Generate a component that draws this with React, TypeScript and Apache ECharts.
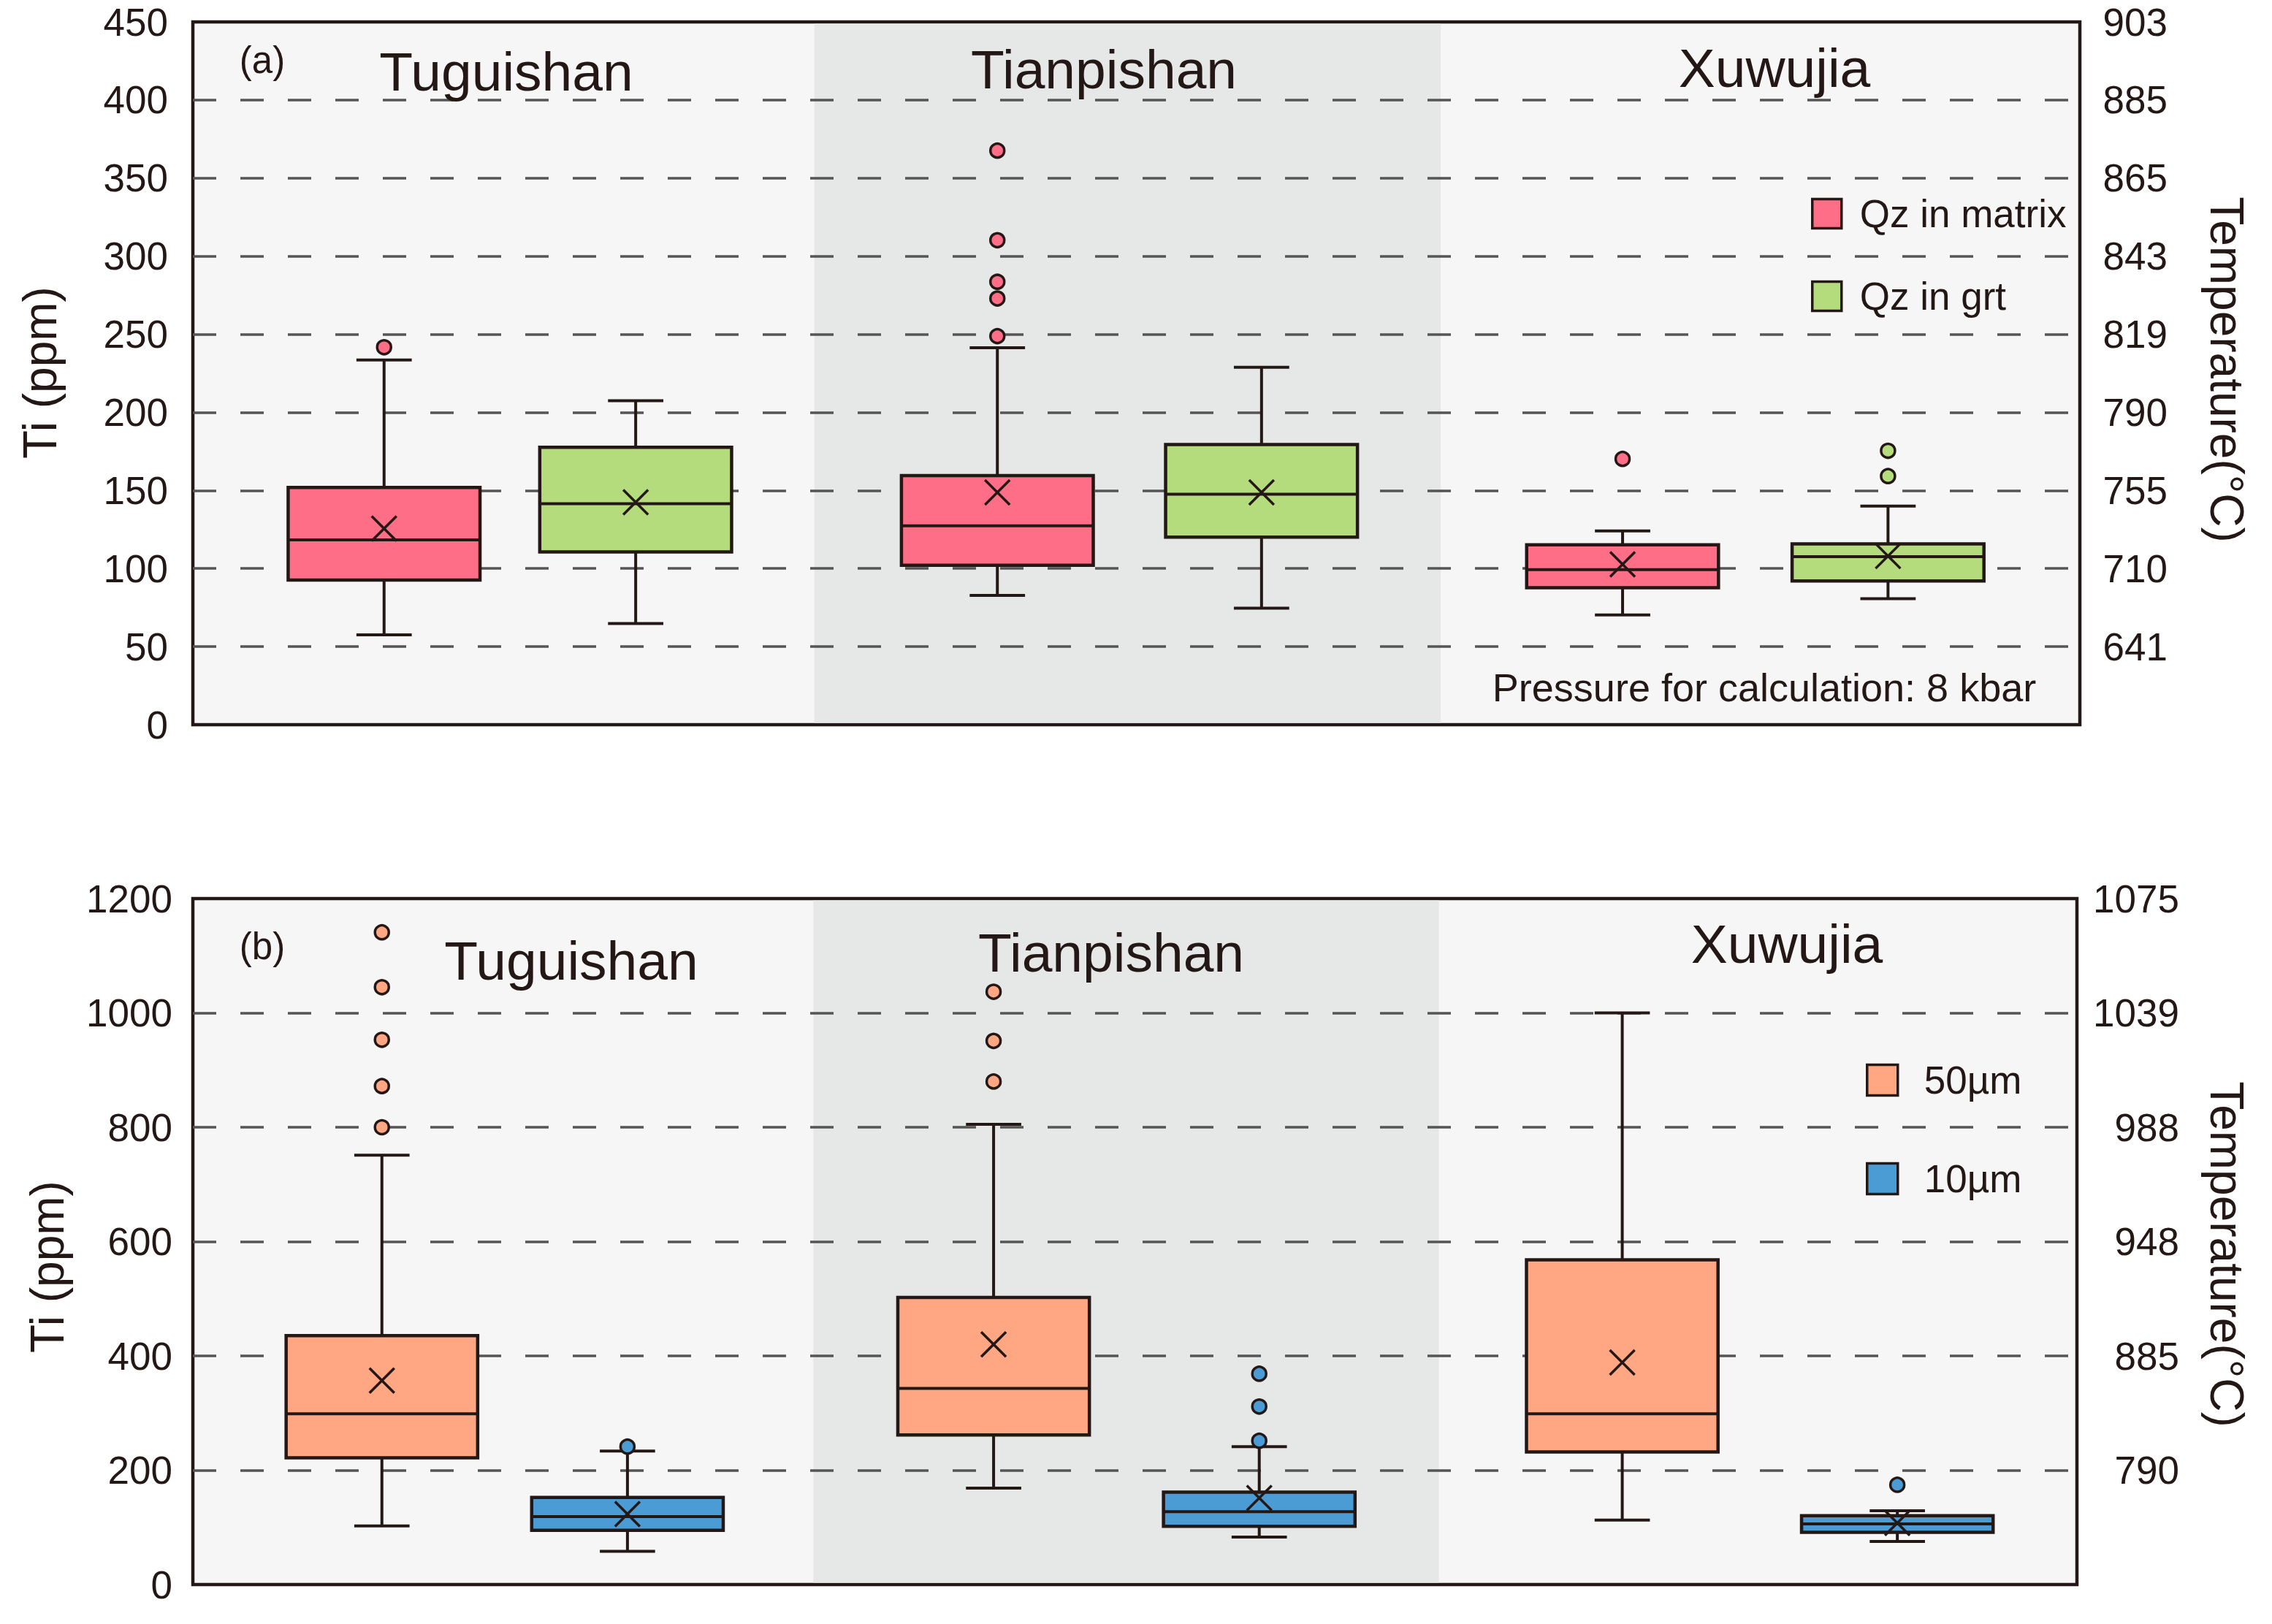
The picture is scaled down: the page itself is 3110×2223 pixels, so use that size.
import React, { useEffect, useRef } from "react";
import * as echarts from "echarts";

// ---------- data ----------
const SITES = ["Tuguishan", "Tianpishan", "Xuwujia"];

// box statistics per site: [lower whisker, Q1, median, Q3, upper whisker, mean]
const A_MATRIX_STATS = [
  [57.5, 92.6, 118.3, 151.9, 233.5, 125.6],
  [82.8, 102.1, 127.4, 159.5, 241.4, 148.8],
  [70.3, 87.7, 99.3, 115.2, 124.1, 102.7],
];
const A_MATRIX_OUTLIERS = [[241.7], [367.6, 310.2, 283.6, 272.9, 248.8], [170.2]];
const A_GRT_STATS = [
  [64.8, 110.6, 141.5, 177.6, 207.5, 142.4],
  [74.6, 120.1, 147.6, 179.4, 228.9, 148.8],
  [80.7, 92.0, 107.6, 115.8, 140.0, 108.0],
];
const A_GRT_OUTLIERS = [[], [], [175.4, 159.2]];

const B_50_STATS = [
  [102.7, 221.6, 298.6, 435.5, 751, 356.8],
  [168.6, 261.8, 343.1, 502.2, 805, 420.1],
  [112.9, 231.9, 298.6, 568, 1000, 388.4],
];
const B_50_OUTLIERS = [[1141, 1045, 953, 872, 800], [1037, 951, 880], []];
const B_10_STATS = [
  [58.2, 95.0, 118.9, 152.3, 233.6, 123.2],
  [83.0, 101.8, 127.5, 161.7, 241.3, 151.4],
  [75.3, 91.5, 106.1, 120.6, 129.2, 107.8],
];
const B_10_OUTLIERS = [[241.3], [368.8, 311.4, 251.5], [174.5]];

const A_TEMP_TICKS = ["", "641", "710", "755", "790", "819", "843", "865", "885", "903"];
const B_TEMP_TICKS = ["", "790", "885", "948", "988", "1039", "1075"];

const A_SERIES_NAMES = ["Qz in matrix", "Qz in grt"];
const B_SERIES_NAMES = ["50µm", "10µm"];

// ---------- styles / layout ----------
const FONT = '"Liberation Sans", Arial, Helvetica, sans-serif';
const INK = "#231815";
const COLORS_A = ["#fe6e86", "#b5dc7c"];
const COLORS_B = ["#ffa782", "#4b9bd5"];
// horizontal offset of each box inside its site band (band = 1 unit on the hidden x axis)
const OFFSETS_A = [
  [0.304, 0.279, 0.273],
  [0.704, 0.699, 0.695],
];
const OFFSETS_B = [
  [0.301, 0.275, 0.276],
  [0.692, 0.698, 0.714],
];
const BOX_W = 0.305;
const CAP_W = 0.088;
const SHADE_RANGE = [0.988, 1.984];

function boxRows(stats: number[][]) {
  return stats.map((s, i) => [i, ...s]);
}

function outlierRows(out: number[][], offsets: number[]) {
  const rows: number[][] = [];
  out.forEach((vals, i) => vals.forEach((v) => rows.push([i + offsets[i], v])));
  return rows;
}

function makeBoxRender(offsets: number[], fill: string) {
  return (params: any, api: any) => {
    const site = api.value(0);
    const x = site + offsets[site];
    const cx = api.coord([x, api.value(1)])[0];
    const yMin = api.coord([x, api.value(1)])[1];
    const yQ1 = api.coord([x, api.value(2)])[1];
    const yMed = api.coord([x, api.value(3)])[1];
    const yQ3 = api.coord([x, api.value(4)])[1];
    const yMax = api.coord([x, api.value(5)])[1];
    const yMean = api.coord([x, api.value(6)])[1];
    const half = api.size([BOX_W, 0])[0] / 2;
    const capHalf = api.size([CAP_W, 0])[0] / 2;
    const c = 17;
    const ls = { stroke: INK, lineWidth: 4 };
    return {
      type: "group",
      children: [
        { type: "line", shape: { x1: cx, y1: yQ3, x2: cx, y2: yMax }, style: ls },
        { type: "line", shape: { x1: cx - capHalf, y1: yMax, x2: cx + capHalf, y2: yMax }, style: ls },
        { type: "line", shape: { x1: cx, y1: yQ1, x2: cx, y2: yMin }, style: ls },
        { type: "line", shape: { x1: cx - capHalf, y1: yMin, x2: cx + capHalf, y2: yMin }, style: ls },
        {
          type: "rect",
          shape: { x: cx - half, y: yQ3, width: half * 2, height: yQ1 - yQ3 },
          style: { fill, stroke: INK, lineWidth: 4.5 },
        },
        { type: "line", shape: { x1: cx - half, y1: yMed, x2: cx + half, y2: yMed }, style: ls },
        { type: "line", shape: { x1: cx - c, y1: yMean - c, x2: cx + c, y2: yMean + c }, style: { stroke: INK, lineWidth: 3.5 } },
        { type: "line", shape: { x1: cx - c, y1: yMean + c, x2: cx + c, y2: yMean - c }, style: { stroke: INK, lineWidth: 3.5 } },
      ],
    };
  };
}

function shadeRender(params: any, api: any) {
  const cs = params.coordSys;
  const x1 = api.coord([SHADE_RANGE[0], 0])[0];
  const x2 = api.coord([SHADE_RANGE[1], 0])[0];
  return {
    type: "rect",
    shape: { x: x1, y: cs.y + 2.5, width: x2 - x1, height: cs.height - 5 },
    style: { fill: "#e6e7e7" },
  };
}

function text(t: string, x: number, y: number, size: number, rotation = 0) {
  return {
    type: "text",
    x,
    y,
    rotation,
    z: 10,
    style: {
      text: t,
      fill: INK,
      fontSize: size,
      fontFamily: FONT,
      align: "center",
      verticalAlign: "middle",
    },
  };
}

export default function App() {
  const ref = useRef<HTMLDivElement>(null);

  useEffect(() => {
    if (!ref.current) return;
    const chart = echarts.init(ref.current, undefined, { renderer: "svg" });

    const leftAxis = (gridIndex: number, max: number, interval: number, margin: number) => ({
      type: "value",
      gridIndex,
      min: 0,
      max,
      interval,
      position: "left",
      z: 1.5,
      axisLine: { show: false },
      axisTick: { show: false },
      axisLabel: {
        fontSize: 53,
        color: INK,
        fontFamily: FONT,
        margin,
        formatter: (v: number) => String(v),
      },
      splitLine: {
        show: true,
        showMinLine: false,
        showMaxLine: false,
        lineStyle: { color: "#555555", width: 3.5, type: [32, 33] },
      },
    });
    const rightAxis = (gridIndex: number, max: number, interval: number, margin: number, ticks: string[]) => ({
      type: "value",
      gridIndex,
      min: 0,
      max,
      interval,
      position: "right",
      axisLine: { show: false },
      axisTick: { show: false },
      splitLine: { show: false },
      axisLabel: {
        fontSize: 53,
        color: INK,
        fontFamily: FONT,
        margin,
        align: "right",
        formatter: (v: number) => ticks[Math.round(v / interval)] ?? "",
      },
    });

    const panelSeries = (
      xi: number,
      yi: number,
      names: string[],
      colors: string[],
      offsets: number[][],
      stats: number[][][],
      outs: number[][][]
    ) => {
      const s: any[] = [
        {
          type: "custom",
          xAxisIndex: xi,
          yAxisIndex: yi,
          z: 1,
          silent: true,
          data: [[0]],
          encode: { x: 0, y: 0 },
          renderItem: shadeRender,
        },
      ];
      names.forEach((name, k) => {
        s.push({
          type: "custom",
          name,
          xAxisIndex: xi,
          yAxisIndex: yi,
          z: 2,
          itemStyle: { color: colors[k] },
          data: boxRows(stats[k]),
          encode: { x: 0, y: [1, 2, 3, 4, 5] },
          renderItem: makeBoxRender(offsets[k], colors[k]),
        });
        s.push({
          type: "scatter",
          name,
          xAxisIndex: xi,
          yAxisIndex: yi,
          z: 3,
          symbol: "circle",
          symbolSize: 19,
          itemStyle: { color: colors[k], borderColor: INK, borderWidth: 3.5, opacity: 1 },
          data: outlierRows(outs[k], offsets[k]),
        });
      });
      return s;
    };

    const legendCfg = (
      names: string[],
      colors: string[],
      left: number,
      top: number,
      size: number,
      gap: number,
      textPad: number
    ) => ({
      orient: "vertical",
      left,
      top,
      padding: 0,
      itemWidth: size,
      itemHeight: size,
      itemGap: gap,
      icon: "rect",
      selectedMode: false,
      data: names.map((n, k) => ({
        name: n,
        icon: "rect",
        itemStyle: { color: colors[k], borderColor: INK, borderWidth: 3.5 },
      })),
      textStyle: {
        fontSize: 53,
        fontFamily: FONT,
        color: INK,
        lineHeight: size,
        padding: [0, 0, 0, textPad],
      },
    });

    const option: any = {
      animation: false,
      backgroundColor: "#ffffff",
      grid: [
        {
          left: 264,
          right: 263,
          top: 30,
          bottom: 1231,
          show: true,
          backgroundColor: "#f6f6f6",
          borderColor: INK,
          borderWidth: 4.5,
        },
        {
          left: 264,
          right: 267,
          top: 1230,
          bottom: 54,
          show: true,
          backgroundColor: "#f6f6f6",
          borderColor: INK,
          borderWidth: 4.5,
        },
      ],
      xAxis: [
        { type: "value", gridIndex: 0, min: 0, max: 3, show: false },
        { type: "value", gridIndex: 1, min: 0, max: 3, show: false },
      ],
      yAxis: [
        leftAxis(0, 450, 50, 34),
        rightAxis(0, 450, 50, 120, A_TEMP_TICKS),
        leftAxis(1, 1200, 200, 28),
        rightAxis(1, 1200, 200, 140, B_TEMP_TICKS),
      ],
      legend: [
        legendCfg(A_SERIES_NAMES, COLORS_A, 2479, 266, 40, 60, 20),
        legendCfg(B_SERIES_NAMES, COLORS_B, 2554, 1452, 42, 82, 31),
      ],
      series: [
        ...panelSeries(0, 0, A_SERIES_NAMES, COLORS_A, OFFSETS_A, [A_MATRIX_STATS, A_GRT_STATS], [A_MATRIX_OUTLIERS, A_GRT_OUTLIERS]),
        ...panelSeries(1, 2, B_SERIES_NAMES, COLORS_B, OFFSETS_B, [B_50_STATS, B_10_STATS], [B_50_OUTLIERS, B_10_OUTLIERS]),
      ],
      graphic: [
        text("(a)", 359, 82, 51),
        text(SITES[0], 693, 98, 75),
        text(SITES[1], 1511, 95, 75),
        text(SITES[2], 2429, 93, 75),
        text("Pressure for calculation: 8 kbar", 2415, 941, 54),
        text("Ti (ppm)", 55, 510, 64, Math.PI / 2),
        text("Temperature(°C)", 3048, 506, 64, -Math.PI / 2),
        text("(b)", 359, 1295, 51),
        text(SITES[0], 782, 1315, 75),
        text(SITES[1], 1521, 1304, 75),
        text(SITES[2], 2446, 1292, 75),
        text("Ti (ppm)", 65, 1734, 64, Math.PI / 2),
        text("Temperature(°C)", 3048, 1717, 64, -Math.PI / 2),
      ],
    };

    chart.setOption(option);
    return () => chart.dispose();
  }, []);

  return <div ref={ref} style={{ width: 3110, height: 2223, margin: -8 }} />;
}
